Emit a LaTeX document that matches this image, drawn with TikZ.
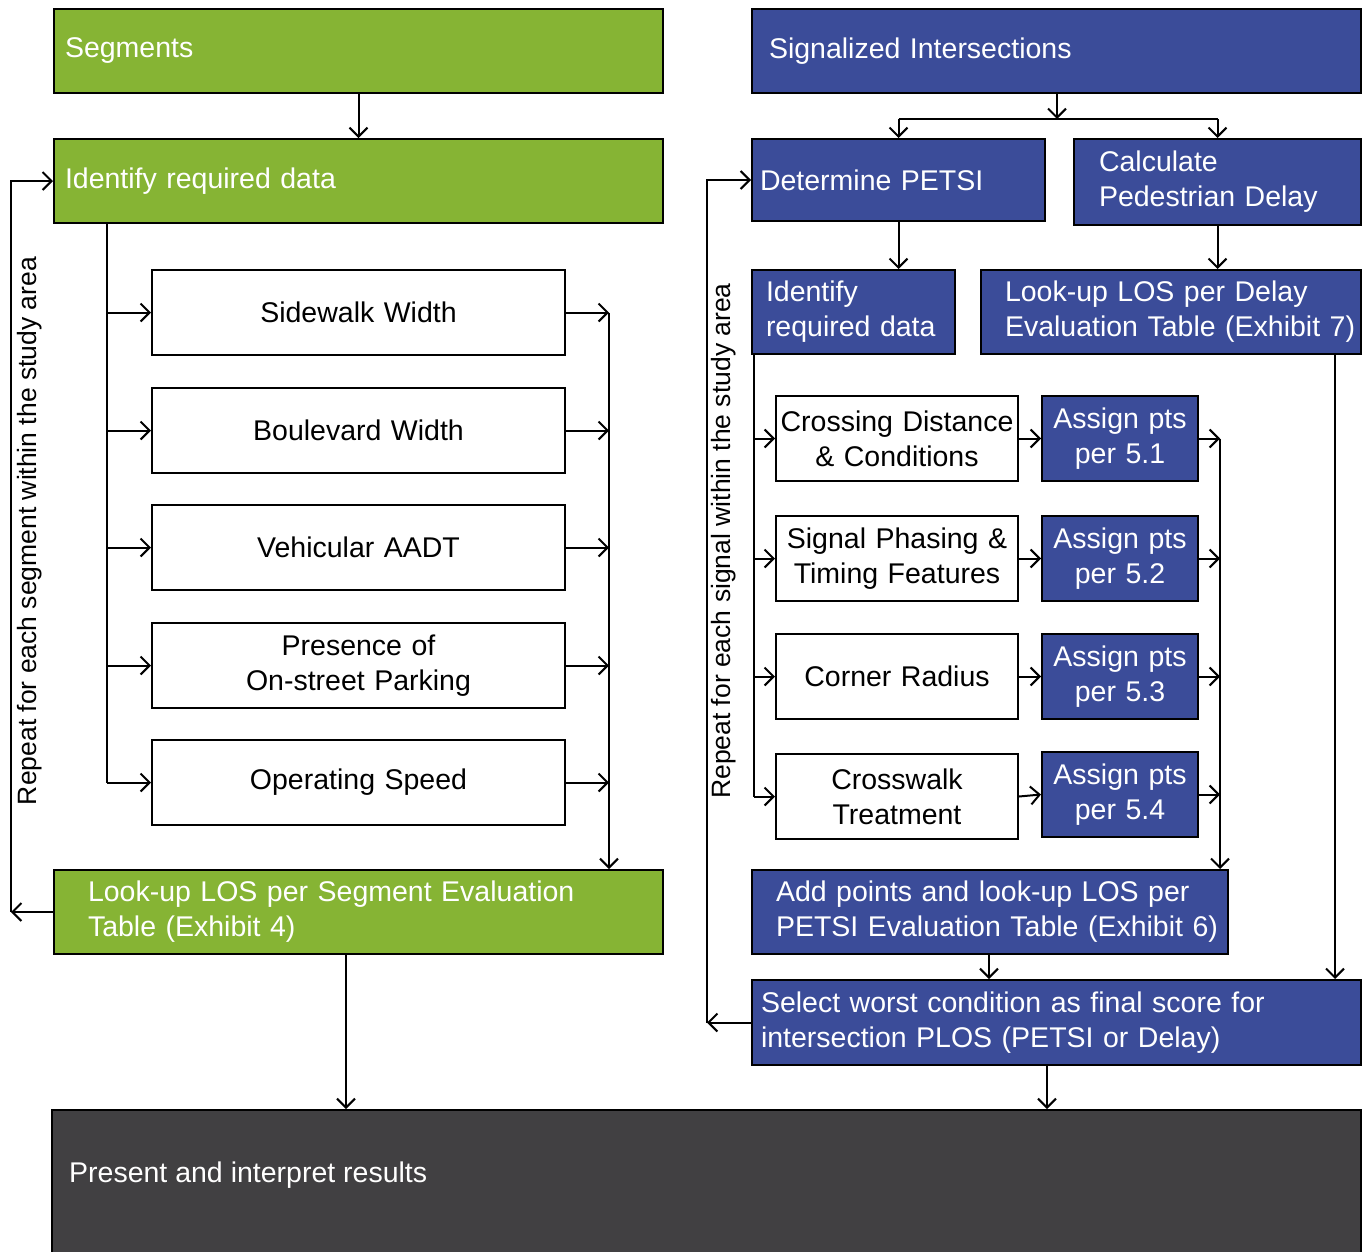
\documentclass[tikz,border=0pt]{standalone}
\usepackage{fontspec}
\setmainfont{Liberation Sans}
\usetikzlibrary{arrows.meta,calc}
\definecolor{segGreen}{RGB}{134,180,52}
\definecolor{sigBlue}{RGB}{59,76,153}
\definecolor{resGray}{RGB}{65,64,66}
\begin{document}
\begin{tikzpicture}[x=1pt,y=-1pt,
  font=\fontsize{28.5}{35}\selectfont,
  box/.style={draw=black, line width=2pt, anchor=north west, inner ysep=0pt},
  gbox/.style={box, fill=segGreen, text=white, align=left},
  bbox/.style={box, fill=sigBlue, text=white, align=left},
  cbox/.style={box, fill=sigBlue, text=white, align=center},
  wbox/.style={box, fill=white, text=black, align=center},
  ln/.style={line width=2pt},
  arr/.style={line width=2pt, -{Straight Barb[length=9pt,width=18pt]}},
  rot/.style={rotate=90, inner sep=0pt, font=\fontsize{26.5}{30}\selectfont}
]
\useasboundingbox (0,0) rectangle (1368,1251);

% ---------- segments column ----------
\node[gbox, minimum width=609, minimum height=84, text width=587pt, inner xsep=11pt] (seg) at (53,8) {Segments};
\node[gbox, minimum width=609, minimum height=84, text width=587pt, inner xsep=11pt] (ident) at (53,138) {Identify required data};

\node[wbox, minimum width=413, minimum height=85, text width=391pt, inner xsep=11pt] (w1) at (151,269) {Sidewalk Width};
\node[wbox, minimum width=413, minimum height=85, text width=391pt, inner xsep=11pt] (w2) at (151,387) {Boulevard Width};
\node[wbox, minimum width=413, minimum height=85, text width=391pt, inner xsep=11pt] (w3) at (151,504) {Vehicular AADT};
\node[wbox, minimum width=413, minimum height=85, text width=391pt, inner xsep=11pt] (w4) at (151,622) {Presence of\\On-street Parking};
\node[wbox, minimum width=413, minimum height=85, text width=391pt, inner xsep=11pt] (w5) at (151,739) {Operating Speed};

\node[gbox, minimum width=609, minimum height=84, text width=541pt, inner xsep=34pt] (slook) at (53,869)
  {\mbox{Look-up LOS per Segment Evaluation}\\\mbox{Table (Exhibit 4)}};

\node[rot] (rep1) at (30,531) {Repeat for each segment within the study area};

% ---------- signalized intersections column ----------
\node[bbox, minimum width=609, minimum height=84, text width=575pt, inner xsep=17pt] (sig) at (751,8) {Signalized Intersections};
\node[bbox, minimum width=293, minimum height=82, text width=277pt, inner xsep=8pt] (petsi) at (751,138) {Determine PETSI};
\node[bbox, minimum width=287, minimum height=86, text width=237pt, inner xsep=25pt] (calc) at (1073,138)
  {\mbox{Calculate}\\\mbox{Pedestrian Delay}};
\node[bbox, minimum width=203, minimum height=84, text width=175pt, inner xsep=14pt] (iblue) at (751,269)
  {\mbox{Identify}\\\mbox{required data}};
\node[bbox, minimum width=380, minimum height=84, text width=332pt, inner xsep=24pt] (dlook) at (980,269)
  {\mbox{Look-up LOS per Delay}\\\mbox{Evaluation Table (Exhibit 7)}};

\node[wbox, minimum width=242, minimum height=85, text width=236pt, inner xsep=3pt] (c1) at (775,395)
  {\mbox{Crossing Distance}\\\mbox{\& Conditions}};
\node[wbox, minimum width=242, minimum height=85, text width=236pt, inner xsep=3pt] (c2) at (775,515)
  {\mbox{Signal Phasing \&}\\\mbox{Timing Features}};
\node[wbox, minimum width=242, minimum height=85, text width=236pt, inner xsep=3pt] (c3) at (775,633) {Corner Radius};
\node[wbox, minimum width=242, minimum height=85, text width=236pt, inner xsep=3pt] (c4) at (775,753)
  {\mbox{Crosswalk}\\\mbox{Treatment}};

\node[cbox, minimum width=156, minimum height=85, text width=150pt, inner xsep=3pt] (p1) at (1041,395) {Assign pts\\per 5.1};
\node[cbox, minimum width=156, minimum height=85, text width=150pt, inner xsep=3pt] (p2) at (1041,515) {Assign pts\\per 5.2};
\node[cbox, minimum width=156, minimum height=85, text width=150pt, inner xsep=3pt] (p3) at (1041,633) {Assign pts\\per 5.3};
\node[cbox, minimum width=156, minimum height=85, text width=150pt, inner xsep=3pt] (p4) at (1041,751) {Assign pts\\per 5.4};

\node[bbox, minimum width=476, minimum height=84, text width=428pt, inner xsep=24pt] (addp) at (751,869)
  {\mbox{Add points and look-up LOS per}\\\mbox{PETSI Evaluation Table (Exhibit 6)}};
\node[bbox, minimum width=609, minimum height=85, text width=591pt, inner xsep=9pt] (sel) at (751,979)
  {\mbox{Select worst condition as final score for}\\\mbox{intersection PLOS (PETSI or Delay)}};

\node[rot] (rep2) at (724,541) {Repeat for each signal within the study area};

% ---------- results ----------
\node[box, fill=resGray, minimum width=1309, minimum height=160] (pres) at (51,1109) {};
\node[anchor=west, inner sep=0pt, text=white] (prestext) at (69,1175) {Present and interpret results};

% ---------- helper coordinates for connector columns ----------
\coordinate (lt) at (107,0);
\coordinate (rt) at (609,0);
\coordinate (ll) at (11,0);
\coordinate (sx) at (346,0);
\coordinate (jn) at (1057,119);
\coordinate (it) at (754,0);
\coordinate (pt) at (1220,0);
\coordinate (dx) at (1335,0);
\coordinate (ax) at (989,0);
\coordinate (bx) at (1047,0);
\coordinate (rl) at (707,0);

% ---------- segment connectors ----------
\draw[arr] (seg.south) -- (ident.north);
\draw[ln] (ident.south -| lt) -- (w5.west -| lt);
\foreach \n in {w1,w2,w3,w4,w5}{
  \draw[arr] (\n.west -| lt) -- (\n.west);
  \draw[arr] (\n.east) -- (\n.east -| rt);
}
\draw[arr] (w1.east -| rt) -- (slook.north -| rt);
\draw[arr] (slook.west) -- (slook.west -| ll);
\draw[arr] (slook.west -| ll) |- (ident.west);
\draw[arr] (slook.south -| sx) -- (pres.north -| sx);

% ---------- intersection connectors ----------
\draw[arr] (sig.south -| jn) -- (jn);
\draw[ln] (petsi.north |- jn) -- (calc.north |- jn);
\draw[arr] (petsi.north |- jn) -- (petsi.north);
\draw[arr] (calc.north |- jn) -- (calc.north);
\draw[arr] (petsi.south) -- (petsi.south |- iblue.north);
\draw[arr] (calc.south) -- (calc.south |- dlook.north);

\draw[ln] (iblue.south -| it) -- (c4.west -| it);
\foreach \c/\p in {c1/p1,c2/p2,c3/p3,c4/p4}{
  \draw[arr] (\c.west -| it) -- (\c.west);
  \draw[arr] (\c.east) -- (\p.west);
  \draw[arr] (\p.east) -- (\p.east -| pt);
}
\draw[arr] (p1.east -| pt) -- (addp.north -| pt);
\draw[arr] (dlook.south -| dx) -- (sel.north -| dx);
\draw[arr] (addp.south -| ax) -- (sel.north -| ax);
\draw[arr] (sel.south -| bx) -- (pres.north -| bx);
\draw[arr] (sel.west) -- (sel.west -| rl);
\draw[arr] (sel.west -| rl) |- (petsi.west);
\end{tikzpicture}
\end{document}
